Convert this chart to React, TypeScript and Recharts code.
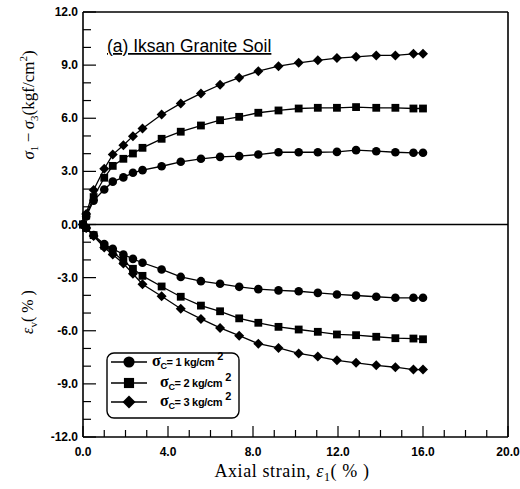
import React from 'react';
import { LineChart, Line, XAxis, YAxis, ReferenceLine } from 'recharts';

// axial strain (%) at each reading
const strain = [0, 0.15, 0.5, 1.0, 1.4, 1.9, 2.35, 2.8, 3.7, 4.6, 5.55, 6.45, 7.35, 8.25, 9.2, 10.15, 11.05, 11.95, 12.85, 13.8, 14.7, 15.55, 16.0];

// deviator stress (kgf/cm2) for confining pressure 1, 2, 3 kg/cm2
const devStress1 = [0, 0.45, 1.35, 1.98, 2.42, 2.66, 2.92, 3.07, 3.29, 3.54, 3.71, 3.82, 3.86, 3.95, 4.08, 4.08, 4.08, 4.1, 4.2, 4.14, 4.08, 4.05, 4.05];
const devStress2 = [0, 0.5, 1.55, 2.64, 3.31, 3.71, 4.01, 4.33, 4.84, 5.24, 5.59, 5.89, 6.08, 6.31, 6.44, 6.55, 6.59, 6.59, 6.63, 6.59, 6.59, 6.55, 6.55];
const devStress3 = [0, 0.6, 1.95, 3.15, 3.95, 4.48, 4.99, 5.42, 6.21, 6.84, 7.4, 7.89, 8.29, 8.66, 8.94, 9.13, 9.27, 9.4, 9.47, 9.55, 9.55, 9.64, 9.64];

// volumetric strain (%)
const volStrain1 = [0, -0.2, -0.6, -1.1, -1.37, -1.69, -1.94, -2.16, -2.54, -2.96, -3.2, -3.35, -3.52, -3.65, -3.72, -3.77, -3.86, -3.95, -4.01, -4.08, -4.14, -4.14, -4.14];
const volStrain2 = [0, -0.2, -0.6, -1.2, -1.55, -2.05, -2.5, -2.9, -3.5, -4.08, -4.58, -4.9, -5.3, -5.55, -5.78, -5.93, -6.06, -6.21, -6.25, -6.34, -6.42, -6.44, -6.48];
const volStrain3 = [0, -0.2, -0.65, -1.3, -1.7, -2.2, -2.78, -3.37, -4.05, -4.76, -5.33, -5.84, -6.28, -6.73, -6.97, -7.28, -7.46, -7.67, -7.81, -7.95, -8.06, -8.19, -8.19];

const confining = ['1', '2', '3'];

const xTicks = [0, 1, 2, 3, 4, 5, 6, 7, 8, 9, 10, 11, 12, 13, 14, 15, 16, 17, 18, 19, 20];
const yTicks = [-12, -11, -10, -9, -8, -7, -6, -5, -4, -3, -2, -1, 0, 1, 2, 3, 4, 5, 6, 7, 8, 9, 10, 11, 12];

type Shape = 'circle' | 'square' | 'diamond';
const shapes: Shape[] = ['circle', 'square', 'diamond'];

const toPoints = (vals: number[]) => strain.map((x, i) => ({ x, y: vals[i] }));

const curves = [
  { id: 'q1', shape: shapes[0], data: toPoints(devStress1) },
  { id: 'q2', shape: shapes[1], data: toPoints(devStress2) },
  { id: 'q3', shape: shapes[2], data: toPoints(devStress3) },
  { id: 'v1', shape: shapes[0], data: toPoints(volStrain1) },
  { id: 'v2', shape: shapes[1], data: toPoints(volStrain2) },
  { id: 'v3', shape: shapes[2], data: toPoints(volStrain3) },
];

const Marker = ({ cx, cy, shape, size = 1 }: { cx: number; cy: number; shape: Shape; size?: number }) => {
  if (shape === 'circle') return <circle cx={cx} cy={cy} r={4.3 * size} fill="#000" />;
  if (shape === 'square') {
    const h = 3.9 * size;
    return <rect x={cx - h} y={cy - h} width={2 * h} height={2 * h} fill="#000" />;
  }
  const s = 5 * size;
  return <polygon points={`${cx},${cy - s} ${cx + s},${cy} ${cx},${cy + s} ${cx - s},${cy}`} fill="#000" />;
};

const sans = '"Liberation Sans", Arial, sans-serif';
const serif = '"Liberation Serif", "Times New Roman", serif';
const tickFont = { fontFamily: sans, fontSize: 12, fontWeight: 700 };

// ticks point into the plot; labels only on the major ones
const BottomTick = (p: any) => {
  const v = p.payload.value;
  const major = v % 4 === 0;
  return (
    <g>
      <line x1={p.x} x2={p.x} y1={p.y} y2={p.y - (major ? 11 : 7)} stroke="#000" strokeWidth={1.2} />
      {major && (
        <text x={p.x} y={p.y + 19} textAnchor="middle" {...tickFont} fill="#000">
          {v.toFixed(1)}
        </text>
      )}
    </g>
  );
};

const TopTick = (p: any) => {
  const major = p.payload.value % 4 === 0;
  return <line x1={p.x} x2={p.x} y1={p.y} y2={p.y + (major ? 10 : 7)} stroke="#000" strokeWidth={1.2} />;
};

const LeftTick = (p: any) => {
  const v = p.payload.value;
  const major = v % 3 === 0;
  return (
    <g>
      <line x1={p.x} x2={p.x + (major ? 13 : 8)} y1={p.y} y2={p.y} stroke="#000" strokeWidth={1.2} />
      {major && (
        <text x={p.x - 5} y={p.y + 4} textAnchor="end" {...tickFont} fill="#000">
          {v.toFixed(1)}
        </text>
      )}
    </g>
  );
};

const RightTick = (p: any) => {
  const major = p.payload.value % 3 === 0;
  return <line x1={p.x} x2={p.x - (major ? 12 : 8)} y1={p.y} y2={p.y} stroke="#000" strokeWidth={1.2} />;
};

const axisLine = { stroke: '#000', strokeWidth: 1.6 };

const LegendBox = () => {
  const rows = [362, 383, 402];
  return (
    <g>
      <rect x={107} y={353} width={132} height={65} rx={7} fill="#fff" stroke="#000" strokeWidth={1.4} />
      {confining.map((c, i) => (
        <g key={c}>
          <line x1={111} x2={147} y1={rows[i]} y2={rows[i]} stroke="#000" strokeWidth={1.4} />
          <Marker cx={129} cy={rows[i]} shape={shapes[i]} size={1.3} />
          <text x={i === 0 ? 152 : 160} y={rows[i] + 4} fontFamily={sans} fontWeight={700} fill="#000" letterSpacing={-0.3}>
            <tspan fontSize={16} fontFamily={serif}>σ</tspan>
            <tspan fontSize={9} dy={3}>C</tspan>
            <tspan fontSize={11} dy={-3}>{`= ${c} kg/cm `}</tspan>
            <tspan fontSize={11} dy={-6}>2</tspan>
          </text>
        </g>
      ))}
    </g>
  );
};

export default function App() {
  return (
    <div style={{ position: 'absolute', left: 0, top: 0, width: 520, height: 489, background: '#fff' }}>
      <LineChart width={520} height={489} margin={{ top: 11, right: 11, bottom: 51, left: 82 }}>
        <XAxis
          dataKey="x"
          type="number"
          domain={[0, 20]}
          ticks={xTicks}
          interval={0}
          height={1}
          tickSize={0}
          tickMargin={0}
          axisLine={axisLine}
          tickLine={false}
          tick={<BottomTick />}
        />
        <XAxis
          xAxisId="top"
          orientation="top"
          dataKey="x"
          type="number"
          domain={[0, 20]}
          ticks={xTicks}
          interval={0}
          height={1}
          tickSize={0}
          tickMargin={0}
          axisLine={axisLine}
          tickLine={false}
          tick={<TopTick />}
        />
        <YAxis
          type="number"
          domain={[-12, 12]}
          ticks={yTicks}
          interval={0}
          width={1}
          tickSize={0}
          tickMargin={0}
          axisLine={axisLine}
          tickLine={false}
          tick={<LeftTick />}
        />
        <YAxis
          yAxisId="right"
          orientation="right"
          type="number"
          domain={[-12, 12]}
          ticks={yTicks}
          interval={0}
          width={1}
          tickSize={0}
          tickMargin={0}
          axisLine={axisLine}
          tickLine={false}
          tick={<RightTick />}
        />
        <ReferenceLine y={0} stroke="#000" strokeWidth={1.5} />
        {curves.map(c => (
          <Line
            key={c.id}
            data={c.data}
            dataKey="y"
            type="linear"
            stroke="#000"
            strokeWidth={1.3}
            isAnimationActive={false}
            dot={(p: any) => <Marker key={`${c.id}-${p.index}`} cx={p.cx} cy={p.cy} shape={c.shape} />}
            activeDot={false}
          />
        ))}
      </LineChart>
      <svg width={520} height={489} style={{ position: 'absolute', left: 0, top: 0, pointerEvents: 'none' }}>
        <text x={107} y={52} fontFamily={sans} fontSize={17.5} textDecoration="underline" fill="#000">
          (a) Iksan Granite Soil
        </text>
        <text transform="translate(34,105) rotate(-90)" textAnchor="middle" fontFamily={serif} fontSize={17} fill="#000">
          <tspan fontStyle="italic">σ</tspan>
          <tspan fontSize={11} dy={4}>1</tspan>
          <tspan dy={-4}>{'\u2009−\u2009'}</tspan>
          <tspan fontStyle="italic">σ</tspan>
          <tspan fontSize={11} dy={4}>3</tspan>
          <tspan dy={-4}>(kgf/cm</tspan>
          <tspan fontSize={11} dy={-7}>2</tspan>
          <tspan dy={7}>)</tspan>
        </text>
        <text transform="translate(33,312) rotate(-90)" textAnchor="middle" fontFamily={serif} fontSize={16} fill="#000">
          <tspan fontStyle="italic">ε</tspan>
          <tspan fontSize={11} dy={4}>v</tspan>
          <tspan dy={-4}>( % )</tspan>
        </text>
        <text x={292} y={477} textAnchor="middle" fontFamily={serif} fontSize={18} letterSpacing={0.6} fill="#000">
          Axial strain, <tspan fontStyle="italic">ε</tspan>
          <tspan fontSize={12} dy={4}>1</tspan>
          <tspan dy={-4}>( % )</tspan>
        </text>
        <LegendBox />
      </svg>
    </div>
  );
}
